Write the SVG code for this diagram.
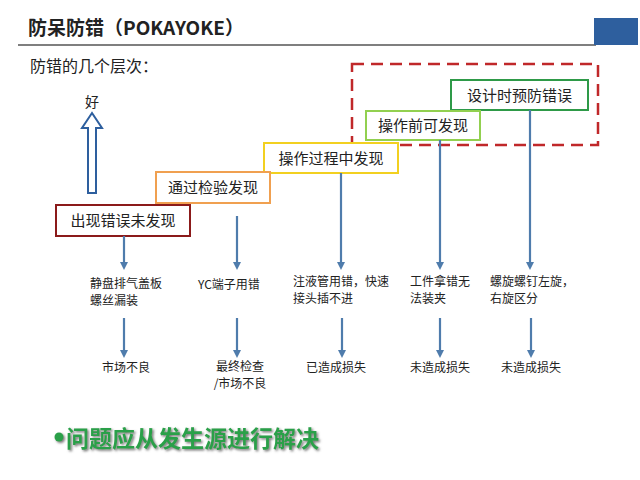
<svg xmlns="http://www.w3.org/2000/svg" width="640" height="480" viewBox="0 0 640 480">
<defs>
<marker id="ah" markerWidth="8" markerHeight="8" refX="4" refY="4" orient="auto" markerUnits="userSpaceOnUse"><path d="M0,0 L8,4 L0,8 z" fill="#4f7cac"/></marker>
<filter id="sh"><feDropShadow dx="1.5" dy="1.5" stdDeviation="0.8" flood-color="#777"/></filter>
</defs>
<style>
text{font-family:"Noto Sans CJK SC","Liberation Sans",sans-serif;fill:#222}
.box{fill:#fff;stroke-width:2}
.bt{font-size:15px;text-anchor:middle}
.s{font-size:12px}
.c{text-anchor:middle}
.ar{stroke:#4f7cac;stroke-width:2.2;marker-end:url(#ah)}
</style>
<rect width="640" height="480" fill="#fff"/>
<text x="28" y="35" font-size="19" font-weight="bold">防呆防错（POKAYOKE）</text>
<line x1="18" y1="45" x2="596" y2="45" stroke="#555" stroke-width="1.5"/>
<rect x="594" y="18" width="44" height="27" fill="#2e5f9e"/>
<text x="30" y="72" font-size="16">防错的几个层次：</text>
<rect x="352" y="64" width="246" height="81" fill="none" stroke="#c0282a" stroke-width="2.5" stroke-dasharray="12,7"/>
<g id="good"><text x="92" y="107" font-size="14" class="c">好</text>
<path d="M92,113 L82,128 L88,128 L88,193 L96,193 L96,128 L102,128 Z" fill="#fff" stroke="#2e5f9e" stroke-width="2"/></g>
<g id="n5"><rect class="box" x="451" y="80" width="137" height="30" stroke="#2e9a48"/><text class="bt" x="519.5" y="101">设计时预防错误</text></g>
<g id="n4"><rect class="box" x="366" y="111" width="114" height="29" stroke="#92d050"/><text class="bt" x="423" y="131">操作前可发现</text></g>
<g id="n3"><rect class="box" x="264" y="143" width="134" height="30" stroke="#f2d020"/><text class="bt" x="331" y="164">操作过程中发现</text></g>
<g id="n2"><rect class="box" x="156" y="172" width="114" height="31" stroke="#f0a050"/><text class="bt" x="213" y="193">通过检验发现</text></g>
<g id="n1"><rect class="box" x="56" y="205" width="134" height="31" stroke="#8b1a1a"/><text class="bt" x="123" y="226">出现错误未发现</text></g>
<g id="connectors">
<line class="ar" x1="124" y1="236" x2="124" y2="266"/>
<line class="ar" x1="237" y1="216" x2="237" y2="266"/>
<line class="ar" x1="341" y1="173" x2="341" y2="266"/>
<line class="ar" x1="440" y1="140" x2="440" y2="266"/>
<line class="ar" x1="530" y1="110" x2="530" y2="266"/>
<line class="ar" x1="124" y1="318" x2="124" y2="354"/>
<line class="ar" x1="237" y1="318" x2="237" y2="354"/>
<line class="ar" x1="342" y1="318" x2="342" y2="354"/>
<line class="ar" x1="440" y1="318" x2="440" y2="354"/>
<line class="ar" x1="531" y1="318" x2="531" y2="354"/>
</g>
<g id="t1"><text class="s" x="90" y="288">静盘排气盖板</text><text class="s" x="90" y="305">螺丝漏装</text></g>
<g id="t2"><text class="s" x="198" y="289">YC端子用错</text></g>
<g id="t3"><text class="s" x="293" y="286">注液管用错，快速</text><text class="s" x="293" y="303">接头插不进</text></g>
<g id="t4"><text class="s" x="410" y="286">工件拿错无</text><text class="s" x="410" y="303">法装夹</text></g>
<g id="t5"><text class="s" x="490" y="286">螺旋螺钉左旋，</text><text class="s" x="490" y="303">右旋区分</text></g>
<g id="r1"><text class="s c" x="126" y="372">市场不良</text></g>
<g id="r2"><text class="s c" x="240" y="371">最终检查</text><text class="s c" x="240" y="388">/市场不良</text></g>
<g id="r3"><text class="s c" x="336" y="372">已造成损失</text></g>
<g id="r4"><text class="s c" x="440" y="372">未造成损失</text></g>
<g id="r5"><text class="s c" x="531" y="372">未造成损失</text></g>
<g filter="url(#sh)"><circle cx="59" cy="437" r="4.5" fill="#2aa04a"/>
<text x="66" y="447" font-size="23" font-weight="bold" style="fill:#2aa04a">问题应从发生源进行解决</text></g>
</svg>
